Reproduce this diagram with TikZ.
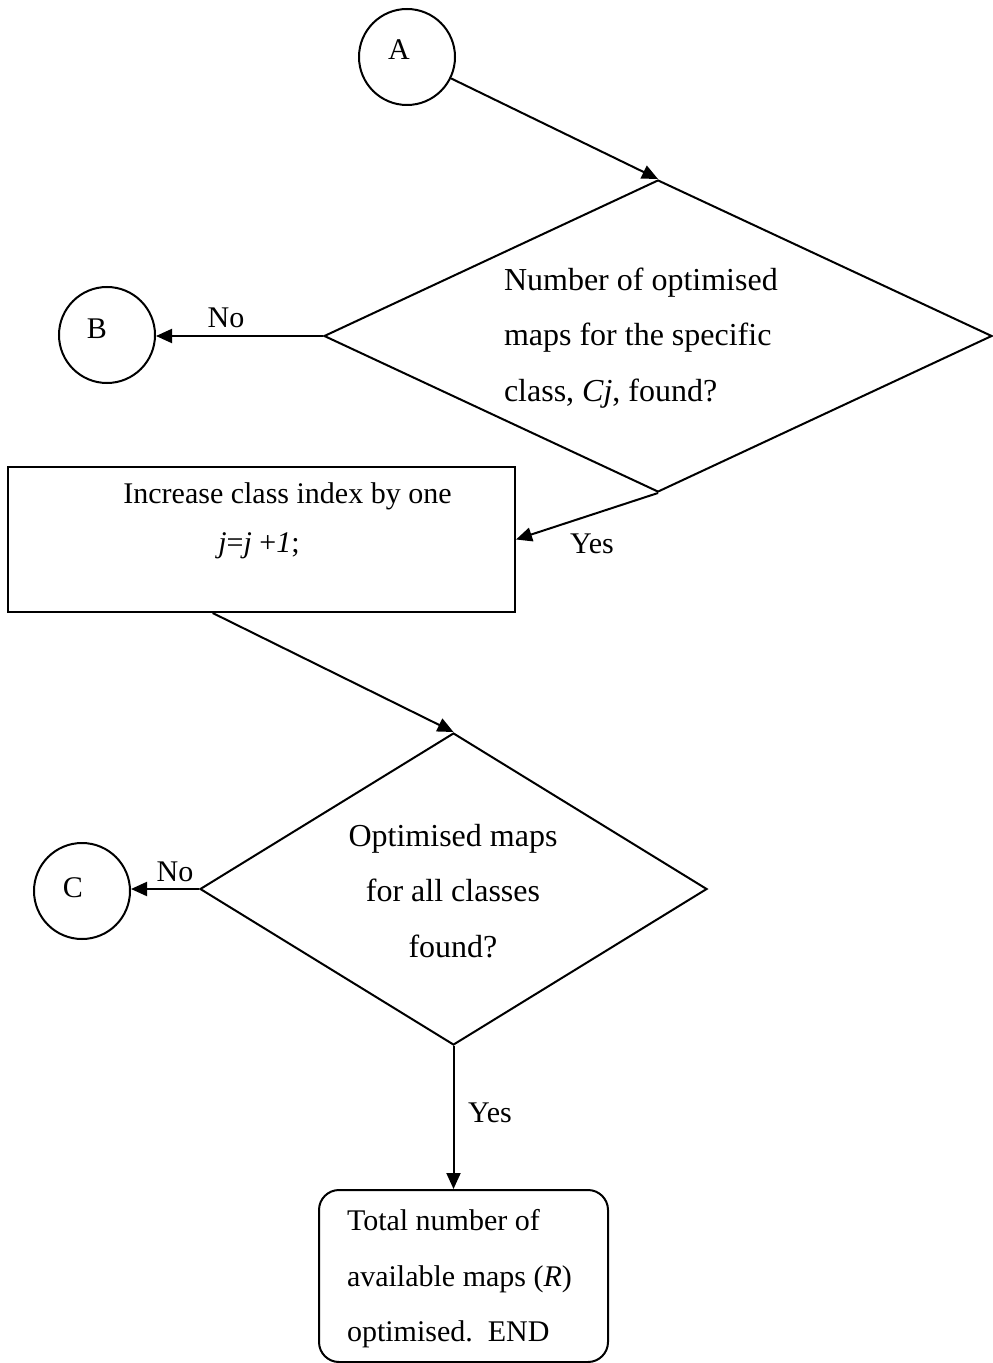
\documentclass[tikz,border=0pt]{standalone}
\usepackage{fontspec}
\setmainfont{Liberation Serif}
\usetikzlibrary{shapes.geometric,arrows.meta,calc}
\begin{document}
\begin{tikzpicture}[x=0.5pt,y=-0.5pt,
  line width=1pt,
  every node/.style={font=\fontsize{15}{27.75}\selectfont},
  conn/.style={circle,draw,minimum size=48pt,inner sep=0pt},
  decision/.style={diamond,draw,inner sep=0pt},
  process/.style={rectangle,draw,inner sep=0pt},
  terminal/.style={rectangle,draw,rounded corners=10pt,inner sep=0pt},
  txt/.style={inner sep=0pt},
  wide/.style={font=\fontsize{16}{27.75}\selectfont},
  flow/.style={-{Triangle[length=8pt,width=7pt]}},
]
\useasboundingbox (0,0) rectangle (992,1363);

% connectors
\node[conn] (A) at (407,57) {};
\node[txt] (tA) at (399,50) {A};
\node[conn] (B) at (107,335) {};
\node[txt] (tB) at (97,329) {B};
\node[conn] (C) at (82,891) {};
\node[txt] (tC) at (73,888) {C};

% first decision
\node[decision,minimum width=334pt,minimum height=156pt] (d1) at (658,336) {};
\node[txt,wide,align=left,anchor=west] (t1) at (503,338)
  {Number of optimised\\maps for the specific\\class, \textit{Cj}, found?};

% process box
\node[process,minimum width=253.5pt,minimum height=72.5pt] (p1) at (261.5,539.5) {};
\node[txt] (p1a) at (287.5,496) {Increase class index by one};
\node[txt] (p1b) at (259,546) {\textit{j}=\textit{j} +\textit{1};};

% second decision
\node[decision,minimum width=253.5pt,minimum height=156pt] (d2) at (453.5,889) {};
\node[txt,wide,align=center] (t2) at (453,891)
  {Optimised maps\\for all classes\\found?};

% end box
\node[terminal,minimum width=144.5pt,minimum height=86pt] (e) at (463.5,1276) {};
\node[txt,align=left,anchor=west] (te) at (346,1279)
  {Total number of\\available maps (\textit{R})\\optimised.\ \ END};

% flow lines
\draw[flow] (A) -- (d1.north);
\draw[flow] (d1.west) -- (d1.west -| B.east);
\node[txt] (n1) at (226,318) {No};
\draw[flow] (d1.south) -- (p1.east);
\node[txt] (y1) at (592,544) {Yes};
\draw[flow] ($(p1.south west)!0.404!(p1.south east)$) -- (d2.north);
\draw[flow] (d2.west) -- (d2.west -| C.east);
\node[txt] (n2) at (175,872) {No};
\draw[flow] (d2.south) -- (d2.south |- e.north);
\node[txt] (y2) at (490,1113) {Yes};
\end{tikzpicture}
\end{document}
